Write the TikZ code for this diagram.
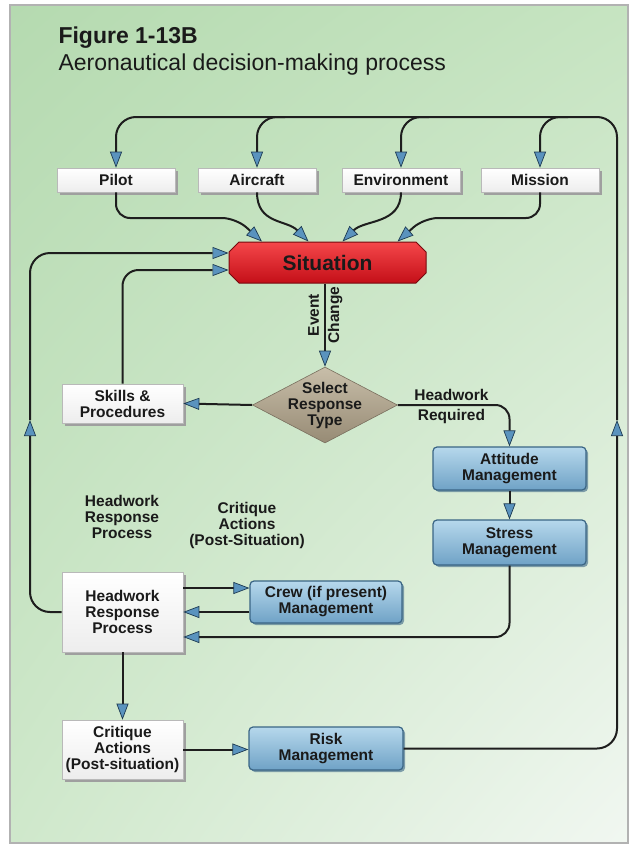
\documentclass[tikz,border=0pt]{standalone}
\usepackage{fontspec}
\setmainfont{Liberation Sans}
\usetikzlibrary{arrows.meta,shapes,shadows,shadings,positioning}

\definecolor{bgA}{HTML}{B5DAB0}
\definecolor{bgB}{HTML}{C6E4C1}
\definecolor{bgC}{HTML}{CFE8CB}
\definecolor{bgD}{HTML}{F1F7F1}
\definecolor{linedark}{HTML}{1E1E1E}
\definecolor{tipblue}{HTML}{5A93BE}
\definecolor{tipedge}{HTML}{1D3A52}
\definecolor{blueA}{HTML}{B6D8EC}
\definecolor{blueB}{HTML}{6FA2C6}
\definecolor{bluedge}{HTML}{3A6585}
\definecolor{tanA}{HTML}{C8BEA9}
\definecolor{tanB}{HTML}{978B75}
\definecolor{sitA}{HTML}{F5474A}
\definecolor{sitB}{HTML}{C40F18}
\definecolor{txt}{HTML}{1A1A1A}

\newcommand\boxfont{\bfseries\fontsize{15.5}{16}\selectfont}

\begin{document}
\begin{tikzpicture}[x=1pt,y=-1pt,
    >={Triangle[length=16pt,width=12pt,fill=tipblue,color=tipedge,line width=0.7pt]},
    text=txt]
\tikzstyle{wbox}=[rectangle,draw=gray!55,line width=0.6pt,top color=white,bottom color=gray!14,
    drop shadow={shadow xshift=2.5pt,shadow yshift=-2.5pt,fill=gray!75,opacity=1},
    minimum width=121pt,inner sep=2pt,align=center,font=\boxfont]
\tikzstyle{bbox}=[rectangle,rounded corners=4pt,draw=bluedge,line width=1.2pt,top color=blueA,bottom color=blueB,
    drop shadow={shadow xshift=2pt,shadow yshift=-2pt,fill=bluedge,opacity=0.6},
    inner sep=2pt,align=center,font=\boxfont]
\tikzstyle{sit_box}=[chamfered rectangle,chamfered rectangle sep=5pt,
    draw=sitB!60!black,line width=1pt,top color=sitA,bottom color=sitB,
    minimum width=197pt,minimum height=41pt,inner sep=0pt,font=\bfseries\fontsize{21}{23}\selectfont]
\tikzstyle{decision}=[diamond,draw=tanB!80!black,line width=0.6pt,top color=tanA,bottom color=tanB,
    minimum width=145pt,minimum height=76pt,inner sep=0pt]
\tikzstyle{conn}=[line width=2pt,draw=linedark]
\tikzstyle{arr}=[conn,->]
\tikzstyle{lbl}=[align=center,font=\boxfont]

\useasboundingbox (0,0) rectangle (636,846);
\shade[upper left=bgA,upper right=bgB,lower left=bgC,lower right=bgD] (10,5) rectangle (628,843);
\draw[gray!60,line width=1.5pt] (10,5) rectangle (628,843);

\node[anchor=base west,font=\bfseries\fontsize{23}{26}\selectfont] (fig_title) at (55,43) {Figure 1-13B};
\node[anchor=base west,font=\fontsize{23}{26}\selectfont] (fig_subtitle) at (55,70) {Aeronautical decision-making process};

% inputs and situation
\node[wbox,minimum width=118pt,minimum height=24pt] (pilot) at (116,180) {Pilot};
\node[wbox,minimum width=118pt,minimum height=24pt] (aircraft) at (257,180) {Aircraft};
\node[wbox,minimum width=118pt,minimum height=24pt] (environment) at (401,180) {Environment};
\node[wbox,minimum width=118pt,minimum height=24pt] (mission) at (540,180) {Mission};
\node[sit_box] (situation) at (327.5,262.5) {Situation};

\node[decision,label={[lbl]center:Select\\Response\\Type}] (select_type) at (325,405) {};
\node[wbox,minimum height=39pt] (skills) at (122.5,403.5) {Skills \&\\Procedures};
\node[bbox,minimum width=153pt,minimum height=43pt] (attitude) at (509.5,468.5) {Attitude\\Management};
\node[bbox,minimum width=153pt,minimum height=45pt] (stress) at (509.5,542.5) {Stress\\Management};

\node[lbl] (lbl_headwork) at (122,517) {Headwork\\Response\\Process};
\node[lbl] (lbl_critique) at (247,525) {Critique\\Actions\\(Post-Situation)};

\node[wbox,minimum height=80pt] (headwork) at (122.5,612) {Headwork\\Response\\Process};
\node[bbox,minimum width=152pt,minimum height=42pt] (crew) at (326,602) {Crew (if present)\\Management};
\node[wbox,minimum height=59pt] (critique) at (122.5,749.5) {Critique\\Actions\\(Post-situation)};
\node[bbox,minimum width=154pt,minimum height=43pt] (risk) at (326,748.5) {Risk\\Management};

\coordinate (top_line) at (0,117);
\coordinate (left_up) at (30,420);
\coordinate (right_up) at (617,420);

% feedback loop over the top
\draw[arr,rounded corners=20pt] (risk.east) -| (right_up);
\draw[arr,rounded corners=20pt] (right_up) |- (pilot.north |- top_line) -- (pilot.north);
\foreach \nm in {aircraft,environment,mission}
  \draw[arr,rounded corners=20pt] ([xshift=28pt]\nm.north |- top_line) -| (\nm.north);

\draw[arr,rounded corners=14pt] (pilot.south) |- (236,218) -- ([xshift=-65.5pt]situation.north);
\draw[arr] (aircraft.south) .. controls +(0,32) and +(-22,-22) .. ([xshift=-19pt]situation.north);
\draw[arr] (environment.south) .. controls +(0,32) and +(22,-22) .. ([xshift=15pt]situation.north);
\draw[arr,rounded corners=14pt] (mission.south) |- (424,218) -- ([xshift=70pt]situation.north);

% left loops
\draw[arr,rounded corners=20pt] (headwork.west) -| (left_up);
\draw[arr,rounded corners=20pt] (left_up) |- ([yshift=9.5pt]situation.west);
\draw[arr,rounded corners=16pt] (skills.north) |- ([yshift=-7.5pt]situation.west);

\draw[arr] (situation.south -| select_type.north) --
    node[pos=0.38,rotate=90,anchor=south,inner sep=5pt,font=\boxfont] {Event}
    node[pos=0.38,rotate=90,anchor=north,inner sep=2pt,font=\boxfont] {Change} (select_type.north);
\draw[arr] (select_type.west) -- (skills.east);
\draw[arr,rounded corners=14pt] (select_type.east) -|
    node[pos=0.24,above,font=\boxfont] {Headwork}
    node[pos=0.24,below,font=\boxfont] {Required} (attitude.north);
\draw[arr] (attitude.south) -- (stress.north);
\draw[arr,rounded corners=14pt] (stress.south) |- ([yshift=-25pt]headwork.east);

\draw[arr] ([yshift=14pt]crew.west -| headwork.east) -- ([yshift=14pt]crew.west);
\draw[arr] ([yshift=-10pt]crew.west) -- ([yshift=-10pt]crew.west -| headwork.east);
\draw[arr] (headwork.south) -- (critique.north);
\draw[arr] (critique.east) -- (critique.east -| risk.west);
\end{tikzpicture}
\end{document}
